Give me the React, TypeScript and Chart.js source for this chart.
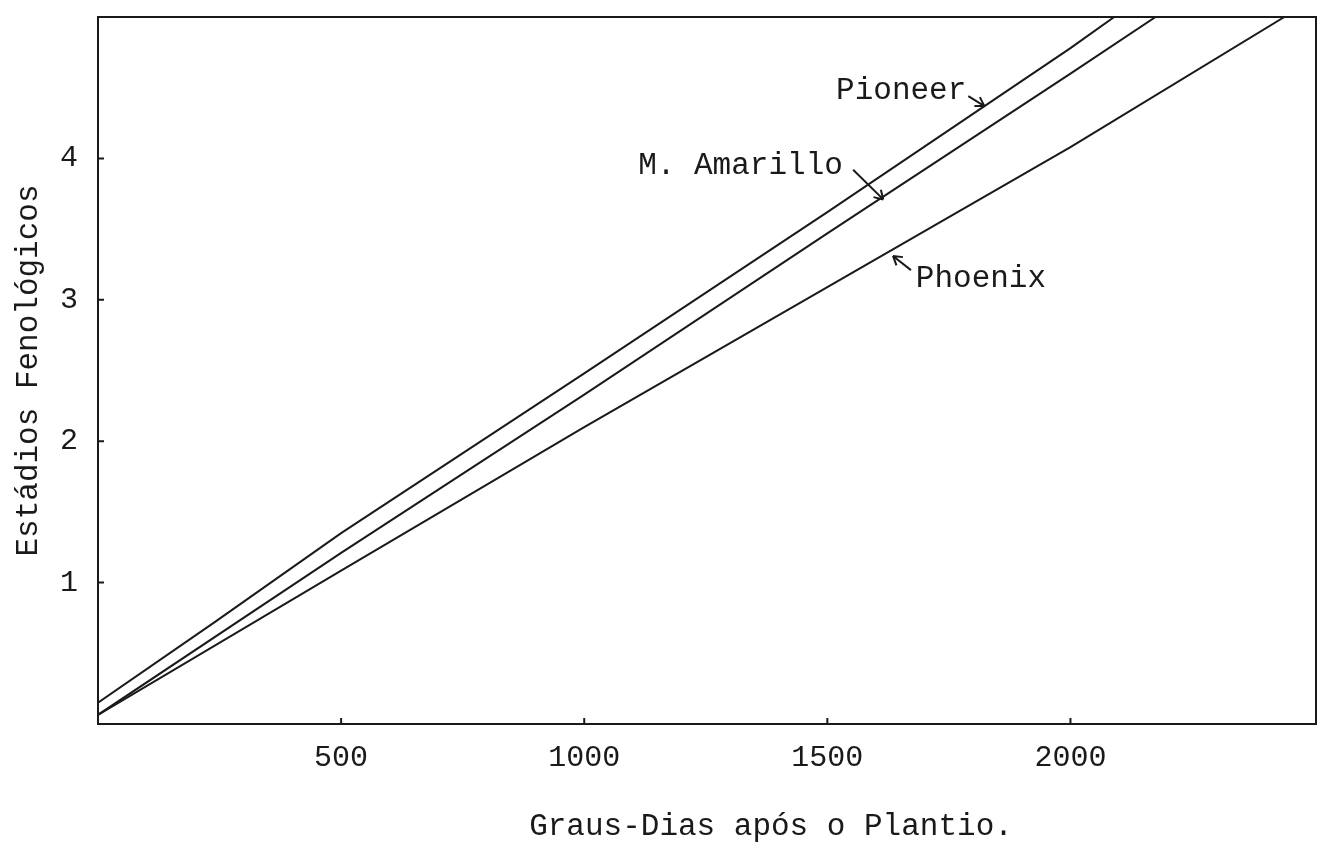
import { useEffect, useRef } from "react";
import { Chart, registerables } from "chart.js";

Chart.register(...registerables);

// ---- data ----
const pioneerX = [0, 240, 500, 1000, 1500, 2000, 2090];
const pioneerY = [0.15, 0.72, 1.35, 2.48, 3.62, 4.78, 5.0];
const amarilloX = [0, 500, 1000, 1500, 2000, 2175];
const amarilloY = [0.065, 1.21, 2.33, 3.47, 4.6, 5.0];
const phoenixX = [0, 500, 1000, 1500, 2000, 2440];
const phoenixY = [0.065, 1.085, 2.1, 3.09, 4.08, 5.0];

const xTicks = [500, 1000, 1500, 2000];
const yTicks = [1, 2, 3, 4];

const seriesNames = ["Pioneer", "M. Amarillo", "Phoenix"];
const xTitle = "Graus-Dias após o Plantio.";
const yTitle = "Estádios Fenológicos";

const FONT = "'Liberation Mono', 'DejaVu Sans Mono', monospace";
const INK = "#1a1a1a";

// label annotations, in data units: text anchor (left, middle) and arrow tail -> head
const labelNotes = [
  { text: seriesNames[0], tx: 1518, ty: 4.48, ax1: 1790, ay1: 4.44, ax2: 1823, ay2: 4.37 },
  { text: seriesNames[1], tx: 1111, ty: 3.95, ax1: 1553, ay1: 3.92, ax2: 1615, ay2: 3.71 },
  { text: seriesNames[2], tx: 1682, ty: 3.15, ax1: 1672, ay1: 3.21, ax2: 1635, ay2: 3.31 },
];

const toPts = (xs: number[], ys: number[]) => xs.map((x, i) => ({ x, y: ys[i] }));

const framePlugin = {
  id: "frameAndNotes",
  afterDraw(chart: any) {
    const { ctx, chartArea: a, scales } = chart;
    const xs = scales.x;
    const ys = scales.y;
    ctx.save();
    ctx.strokeStyle = INK;
    ctx.lineWidth = 2;
    ctx.strokeRect(a.left, a.top, a.right - a.left, a.bottom - a.top);
    // inward tick marks
    ctx.beginPath();
    xTicks.forEach((v) => {
      const px = xs.getPixelForValue(v);
      ctx.moveTo(px, a.bottom);
      ctx.lineTo(px, a.bottom - 6);
    });
    yTicks.forEach((v) => {
      const py = ys.getPixelForValue(v);
      ctx.moveTo(a.left, py);
      ctx.lineTo(a.left + 6, py);
    });
    ctx.stroke();

    // series labels with arrows
    ctx.fillStyle = INK;
    ctx.font = `31px ${FONT}`;
    ctx.textBaseline = "middle";
    ctx.textAlign = "left";
    ctx.lineWidth = 2;
    labelNotes.forEach((n) => {
      ctx.fillText(n.text, xs.getPixelForValue(n.tx), ys.getPixelForValue(n.ty));
      const x1 = xs.getPixelForValue(n.ax1);
      const y1 = ys.getPixelForValue(n.ay1);
      const x2 = xs.getPixelForValue(n.ax2);
      const y2 = ys.getPixelForValue(n.ay2);
      const ang = Math.atan2(y2 - y1, x2 - x1);
      const h = 10;
      ctx.beginPath();
      ctx.moveTo(x1, y1);
      ctx.lineTo(x2, y2);
      ctx.moveTo(x2, y2);
      ctx.lineTo(x2 - h * Math.cos(ang - 0.55), y2 - h * Math.sin(ang - 0.55));
      ctx.moveTo(x2, y2);
      ctx.lineTo(x2 - h * Math.cos(ang + 0.55), y2 - h * Math.sin(ang + 0.55));
      ctx.stroke();
    });

    // x axis title
    ctx.textAlign = "center";
    ctx.textBaseline = "alphabetic";
    ctx.fillText(xTitle, (a.left + a.right) / 2 + 64, 835);
    ctx.restore();
  },
};

export default function App() {
  const ref = useRef<HTMLCanvasElement | null>(null);
  useEffect(() => {
    const canvas = ref.current;
    if (!canvas) return;
    document.body.style.margin = "0";
    const lineStyle = {
      borderColor: INK,
      backgroundColor: INK,
      borderWidth: 2,
      pointRadius: 0,
      tension: 0,
      fill: false,
    };
    const chart = new Chart(canvas, {
      type: "line",
      data: {
        datasets: [
          { label: seriesNames[0], data: toPts(pioneerX, pioneerY), ...lineStyle },
          { label: seriesNames[1], data: toPts(amarilloX, amarilloY), ...lineStyle },
          { label: seriesNames[2], data: toPts(phoenixX, phoenixY), ...lineStyle },
        ],
      },
      options: {
        responsive: false,
        animation: false,
        layout: { padding: { top: 17, right: 2, left: 0, bottom: 0 } },
        plugins: { legend: { display: false }, tooltip: { enabled: false } },
        scales: {
          x: {
            type: "linear",
            min: 0,
            max: 2505,
            grid: { display: false, drawTicks: false },
            border: { display: false },
            afterBuildTicks: (s: any) => {
              s.ticks = xTicks.map((v) => ({ value: v }));
            },
            afterFit: (s: any) => {
              s.height = 119;
              s.paddingLeft = 0;
              s.paddingRight = 0;
            },
            ticks: {
              color: INK,
              padding: 16,
              font: { family: FONT, size: 30 },
              callback: (v: any) => String(v),
            },
          },
          y: {
            type: "linear",
            min: 0,
            max: 5,
            grid: { display: false, drawTicks: false },
            border: { display: false },
            afterBuildTicks: (s: any) => {
              s.ticks = yTicks.map((v) => ({ value: v }));
            },
            afterFit: (s: any) => {
              s.width = 98;
              s.paddingTop = 0;
              s.paddingBottom = 0;
            },
            ticks: {
              color: INK,
              padding: 20,
              font: { family: FONT, size: 30 },
              callback: (v: any) => String(v),
            },
            title: {
              display: true,
              text: yTitle,
              color: INK,
              padding: { top: 10, bottom: 0 },
              font: { family: FONT, size: 31, weight: "normal" },
            },
          },
        },
      },
      plugins: [framePlugin],
    });
    return () => chart.destroy();
  }, []);
  return (
    <div style={{ position: "absolute", left: 0, top: 0, width: 1318, height: 843, background: "#fff" }}>
      <canvas ref={ref} width={1318} height={843} style={{ display: "block" }} />
    </div>
  );
}
